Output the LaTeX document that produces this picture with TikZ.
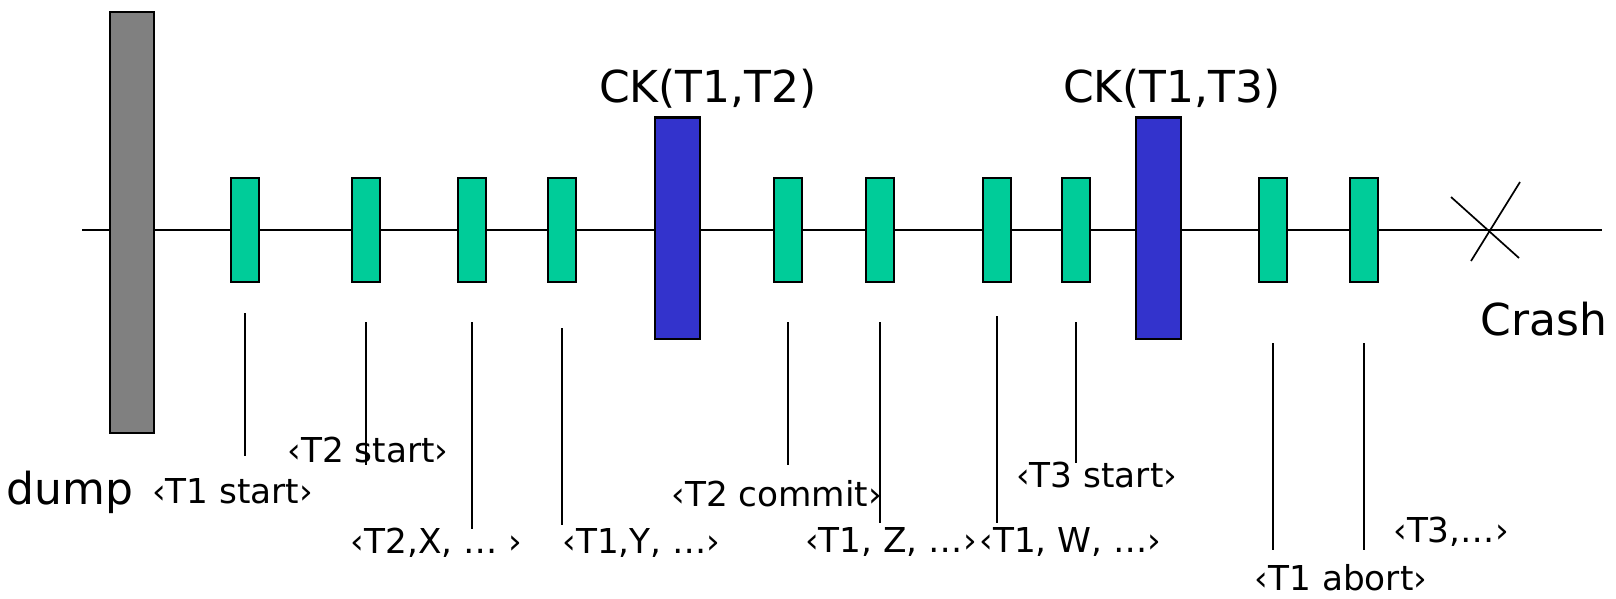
\documentclass[tikz,border=0pt]{standalone}
\usepackage{fontspec}
\setmainfont{DejaVu Sans}

\definecolor{recgreen}{HTML}{00CC99}
\definecolor{ckblue}{HTML}{3333CC}
\definecolor{dumpgray}{HTML}{808080}

\tikzset{
  logrec/.style={draw=black, line width=2.2pt, fill=recgreen,
    minimum width=28.5pt, minimum height=104pt, inner sep=0pt},
  ckpt/.style={draw=black, line width=2.2pt, fill=ckblue,
    minimum width=45.5pt, minimum height=221.5pt, inner sep=0pt},
  dumpbar/.style={draw=black, line width=2.2pt, fill=dumpgray,
    minimum width=44pt, minimum height=421pt, inner sep=0pt},
  note/.style={anchor=base, inner sep=0pt, font=\fontsize{34.3}{40}\selectfont},
  big/.style={anchor=base, inner sep=0pt, font=\fontsize{44}{50}\selectfont},
}

\begin{document}
\begin{tikzpicture}[x=1pt, y=-1pt]
\useasboundingbox (0,0) rectangle (1616,598);

% time axis
\coordinate (axisL) at (82,230);
\coordinate (axisR) at (1602,230);
\draw[line width=1.7pt] (axisL) -- (axisR);

\node[dumpbar] (dump) at (132,222.5) {};
\node[ckpt] (ck1) at (677.5,228.3) {};
\node[ckpt] (ck2) at (1158.5,228.3) {};

% log records and the lines under them
\foreach \i/\x/\ya/\yb in {1/245/313/456, 2/366/322/465, 3/472/322/529,
    4/562/328/525, 5/788/322/465, 6/880/322/523, 7/997/316/523,
    8/1076/322/463, 9/1273/343/550, 10/1364/343/550}{
  \node[logrec] (r\i) at (\x,230) {};
  \draw[line width=1.4pt] (r\i.south |- 0,\ya) -- (r\i.south |- 0,\yb);
}

\node[note] (t1start) at (232.5,503) {‹T1 start›};
\node[note] (t2start) at (368,462) {‹T2 start›};
\node[note] (t2x) at (436.7,553) {‹T2,X, … ›};
\node[note] (t1y) at (641.5,553) {‹T1,Y, …›};
\node[note] (t2commit) at (776.7,506) {‹T2 commit›};
\node[note] (t1z) at (891,552) {‹T1, Z, …›};
\node[note] (t1w) at (1070.5,552) {‹T1, W, …›};
\node[note] (t3start) at (1096.7,487) {‹T3 start›};
\node[note] (t1abort) at (1341,590) {‹T1 abort›};
\node[note] (t3rec) at (1451,542) {‹T3,…›};

\node[big] (dumplbl) at (70,504) {dump};
\node[big] (cklbl1) at (708,102) {CK(T1,T2)};
\node[big] (cklbl2) at (1172,102) {CK(T1,T3)};
\node[big] (crashlbl) at (1544,335) {Crash};

% crash mark
\coordinate (crash) at (1490,230);
\draw[line width=1.7pt] ([shift={(-39,-33)}]crash) -- ([shift={(29,28)}]crash);
\draw[line width=1.7pt] ([shift={(30,-48)}]crash) -- ([shift={(-19,31)}]crash);
\end{tikzpicture}
\end{document}
